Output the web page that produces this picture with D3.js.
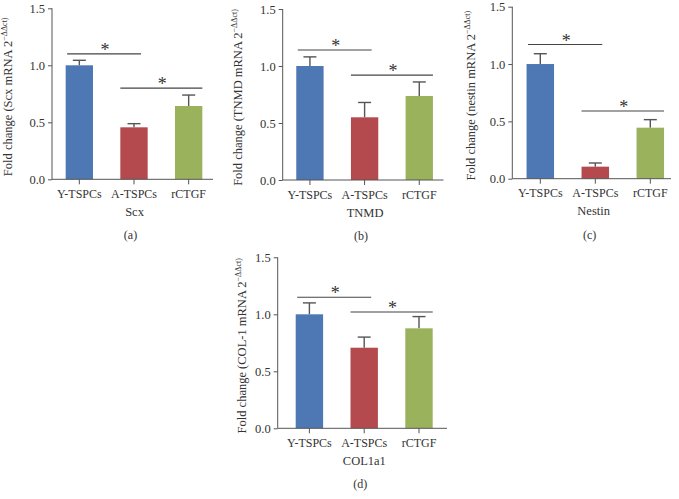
<!DOCTYPE html>
<html><head><meta charset="utf-8">
<script src="https://cdn.jsdelivr.net/npm/d3@7"></script>
<style>
html,body{margin:0;padding:0;background:#fff;}
svg{display:block;}
text{font-family:"Liberation Serif","Times New Roman",serif;fill:#333;}
</style></head>
<body>
<svg id="chart" width="679" height="499"></svg>
<script>
// ---- data ----
const groups = ["Y-TSPCs", "A-TSPCs", "rCTGF"];
const yTicks = [0.0, 0.5, 1.0, 1.5];

const scxMean = [1.0, 0.456, 0.643];
const scxErr  = [0.044, 0.032, 0.096];
const scxSig  = [1.10, 0.80];

const tnmdMean = [1.0, 0.55, 0.737];
const tnmdErr  = [0.08, 0.13, 0.123];
const tnmdSig  = [1.14, 0.92];

const nestinMean = [1.0, 0.105, 0.445];
const nestinErr  = [0.09, 0.032, 0.07];
const nestinSig  = [1.17, 0.59];

const col1Mean = [1.0, 0.707, 0.877];
const col1Err  = [0.10, 0.093, 0.103];
const col1Sig  = [1.15, 1.02];

const geneNames  = ["Scx", "TNMD", "Nestin", "COL1a1"];
const titleGenes = ["Scx", "TNMD", "nestin", "COL-1"];
const panelTags  = ["(a)", "(b)", "(c)", "(d)"];

const colors = ["#4e78b3", "#b44a4d", "#9bb25d"];

// ---- layout per panel ----
const layouts = [
  {axisX: 52,    axisEnd: 213, y0: 179.3, y15: 8.3,   bandStart: 52,    bandEnd: 216,   titleX: 11.5},
  {axisX: 282.7, axisEnd: 443.5, y0: 180, y15: 9,     bandStart: 282.6, bandEnd: 446.6, titleX: 241.5},
  {axisX: 512.3, axisEnd: 671, y0: 178.7, y15: 6.7,   bandStart: 512.8, bandEnd: 677.8, titleX: 475},
  {axisX: 277.7, axisEnd: 447, y0: 428.3, y15: 257.3, bandStart: 282,   bandEnd: 446.4, titleX: 246}
];

const means = [scxMean, tnmdMean, nestinMean, col1Mean];
const errs  = [scxErr, tnmdErr, nestinErr, col1Err];
const sigs  = [scxSig, tnmdSig, nestinSig, col1Sig];

const svg = d3.select("#chart");

layouts.forEach((L, p) => {
  const g = svg.append("g");
  const x = d3.scaleBand().domain(groups).range([L.bandStart, L.bandEnd])
    .paddingInner(0.5).paddingOuter(0.25);
  const y = d3.scaleLinear().domain([0, 1.5]).range([L.y0, L.y15]);
  const data = groups.map((k, i) => ({k, m: means[p][i], e: errs[p][i], c: colors[i]}));

  // error bars (upper only)
  const eb = g.append("g").attr("stroke", "#555").attr("stroke-width", 1.4).attr("fill", "none");
  data.forEach(d => {
    const cx = x(d.k) + x.bandwidth() / 2;
    eb.append("line").attr("x1", cx).attr("x2", cx).attr("y1", y(d.m)).attr("y2", y(d.m + d.e));
    eb.append("line").attr("x1", cx - 6.5).attr("x2", cx + 6.5).attr("y1", y(d.m + d.e)).attr("y2", y(d.m + d.e));
  });

  // bars
  g.append("g").selectAll("rect").data(data).join("rect")
    .attr("x", d => x(d.k)).attr("width", x.bandwidth())
    .attr("y", d => y(d.m)).attr("height", d => y(0) - y(d.m))
    .attr("fill", d => d.c);

  // y axis
  const ya = g.append("g").attr("transform", `translate(${L.axisX},0)`)
    .call(d3.axisLeft(y).tickValues(yTicks).tickFormat(d3.format(".1f")).tickSize(4).tickPadding(3).tickSizeOuter(0));
  ya.select(".domain").attr("stroke", "#555").attr("d", `M0,${L.y0}V${L.y15}`);
  ya.selectAll(".tick line").attr("stroke", "#555");
  ya.selectAll(".tick text").style("font-size", "12.5px").attr("fill", "#333");

  // x axis
  const xa = g.append("g").attr("transform", `translate(0,${L.y0})`)
    .call(d3.axisBottom(x).tickSize(5).tickPadding(5).tickSizeOuter(0));
  xa.select(".domain").attr("stroke", "#555").attr("d", `M${L.axisX},0H${L.axisEnd}`);
  xa.selectAll(".tick line").attr("stroke", "#555");
  xa.selectAll(".tick text").style("font-size", "12px").attr("fill", "#333");

  // significance bars
  const s1y = y(sigs[p][0]), s2y = y(sigs[p][1]);
  const a1 = x(groups[0]) + 1.5, a2 = x(groups[1]) + x.bandwidth() / 2 + 7;
  const b1 = x(groups[1]), b2 = x(groups[2]) + x.bandwidth();
  g.append("line").attr("x1", a1).attr("x2", a2).attr("y1", s1y).attr("y2", s1y)
    .attr("stroke", "#444").attr("stroke-width", 1.1);
  g.append("line").attr("x1", b1).attr("x2", b2).attr("y1", s2y).attr("y2", s2y)
    .attr("stroke", "#444").attr("stroke-width", 1.1);
  g.append("text").attr("x", (a1 + a2) / 2 + 1).attr("y", s1y + 2).attr("text-anchor", "middle")
    .style("font-size", "18px").text("*");
  g.append("text").attr("x", (b1 + b2) / 2 + 1).attr("y", s2y + 2).attr("text-anchor", "middle")
    .style("font-size", "18px").text("*");

  // x title + panel tag
  const midX = (L.axisX + L.axisEnd) / 2;
  g.append("text").attr("x", midX + 2).attr("y", L.y0 + 36.5).attr("text-anchor", "middle")
    .style("font-size", "12.5px").text(geneNames[p]);
  g.append("text").attr("x", midX - 2).attr("y", L.y0 + 60).attr("text-anchor", "middle")
    .style("font-size", "12px").text(panelTags[p]);

  // y title
  const cy = (L.y0 + L.y15) / 2 + 3;
  const t = g.append("text").attr("transform", `translate(${L.titleX},${cy}) rotate(-90)`)
    .attr("text-anchor", "middle").style("font-size", "12.5px");
  t.append("tspan").text(`Fold change (${titleGenes[p]} mRNA 2`);
  t.append("tspan").attr("dy", -5).style("font-size", "8px").text("−ΔΔct)");
});
</script>
</body></html>
